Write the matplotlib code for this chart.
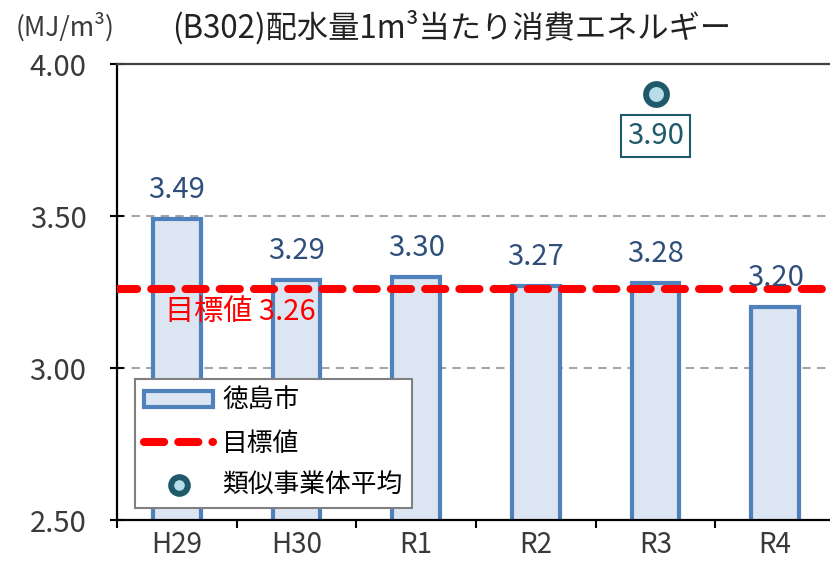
import numpy as np
import matplotlib.pyplot as plt
from matplotlib.ticker import FixedLocator, NullFormatter

plt.rcParams['font.family'] = ['Noto Sans CJK JP', 'DejaVu Sans']

years = ['H29', 'H30', 'R1', 'R2', 'R3', 'R4']
values = [3.49, 3.29, 3.30, 3.27, 3.28, 3.20]
target = 3.26
peer_year = 'R3'
peer_value = 3.90

bar_fill = '#DCE6F2'
bar_edge = '#4F81BD'
label_blue = '#2F4F7A'
teal = '#1F5A6B'
text_grey = '#3A3A3A'

fig = plt.figure(figsize=(8.3, 5.63), dpi=100)
# axes runs a little past the right edge of the figure
ax = fig.add_axes([117/830, 43/563, 718/830, 456/563])

x = np.arange(len(years))
bars = ax.bar(x, values, width=0.4, color=bar_fill, edgecolor=bar_edge,
              linewidth=3, zorder=2, label='徳島市')

for xi, v in zip(x, values):
    ax.annotate(f'{v:.2f}', (xi, v), xytext=(0, 15), textcoords='offset points',
                ha='center', va='baseline', fontsize=21, color=label_blue, zorder=5)

goal = ax.axhline(target, color='#FF0000', lw=5.8, linestyle=(0, (2.5, 1.75)),
                  dash_capstyle='round', zorder=4, label='目標値')
ax.text(-0.1, target - 0.025, f'目標値 {target:.2f}', color='#FF0000', fontsize=21,
        ha='left', va='top', zorder=5)

px = years.index(peer_year)
peer, = ax.plot([px], [peer_value], 'o', ms=15, mfc='#B7DEE8', mec=teal, mew=4.3,
                zorder=6, label='類似事業体平均', linestyle='none')
ax.annotate(f'{peer_value:.2f}', (px, peer_value), xytext=(0, -30),
            textcoords='offset points', ha='center', va='center', fontsize=21,
            color=teal, zorder=6,
            bbox=dict(boxstyle='square,pad=0.22', fc='white', ec=teal, lw=1.5))

# grey dashed gridlines
for gy in [3.0, 3.5]:
    ax.axhline(gy, color='#A6A6A6', lw=1.5, linestyle=(0, (4, 3)), zorder=1)

ax.set_xlim(-0.5, len(years) - 0.5)
ax.set_ylim(2.5, 4.0)
yticks = [2.5, 3.0, 3.5, 4.0]
ax.set_yticks(yticks)
ax.set_yticklabels([f'{t:.2f}' for t in yticks])
ax.set_xticks(x)
ax.set_xticklabels(years)
ax.xaxis.set_minor_locator(FixedLocator(np.arange(-0.5, len(years), 1.0)))
ax.xaxis.set_minor_formatter(NullFormatter())
ax.tick_params(axis='x', which='major', length=0, pad=7, labelsize=20,
               labelcolor=text_grey)
ax.tick_params(axis='x', which='minor', length=6, width=1.5, direction='out', color='black')
ax.tick_params(axis='y', length=10, width=1.5, direction='inout', pad=17,
               labelsize=21, labelcolor=text_grey)

for side in ['left', 'bottom']:
    ax.spines[side].set_linewidth(1.6)
    ax.spines[side].set_color('black')
ax.spines['top'].set_linewidth(1.6)
ax.spines['top'].set_color('#404040')
ax.spines['right'].set_visible(False)

leg = ax.legend([bars, goal, peer], ['徳島市', '目標値', '類似事業体平均'],
                loc='lower left', bbox_to_anchor=(0.025, 0.026), borderaxespad=0,
                fontsize=18.5, handlelength=2.7, handleheight=0.55, handletextpad=0.35,
                borderpad=0.35, labelspacing=0.64, markerscale=0.8,
                fancybox=False, framealpha=1, edgecolor='#808080')
leg.get_frame().set_linewidth(1.5)
leg.set_zorder(10)

fig.text(452/830, 1 - 28/563, '(B302)配水量1m³当たり消費エネルギー', fontsize=22.5,
         ha='center', va='center', color='#222222')
fig.text(65/830, 1 - 27/563, '(MJ/m³)', fontsize=19, ha='center', va='center',
         color=text_grey)

fig.savefig('out.png', dpi=100)
